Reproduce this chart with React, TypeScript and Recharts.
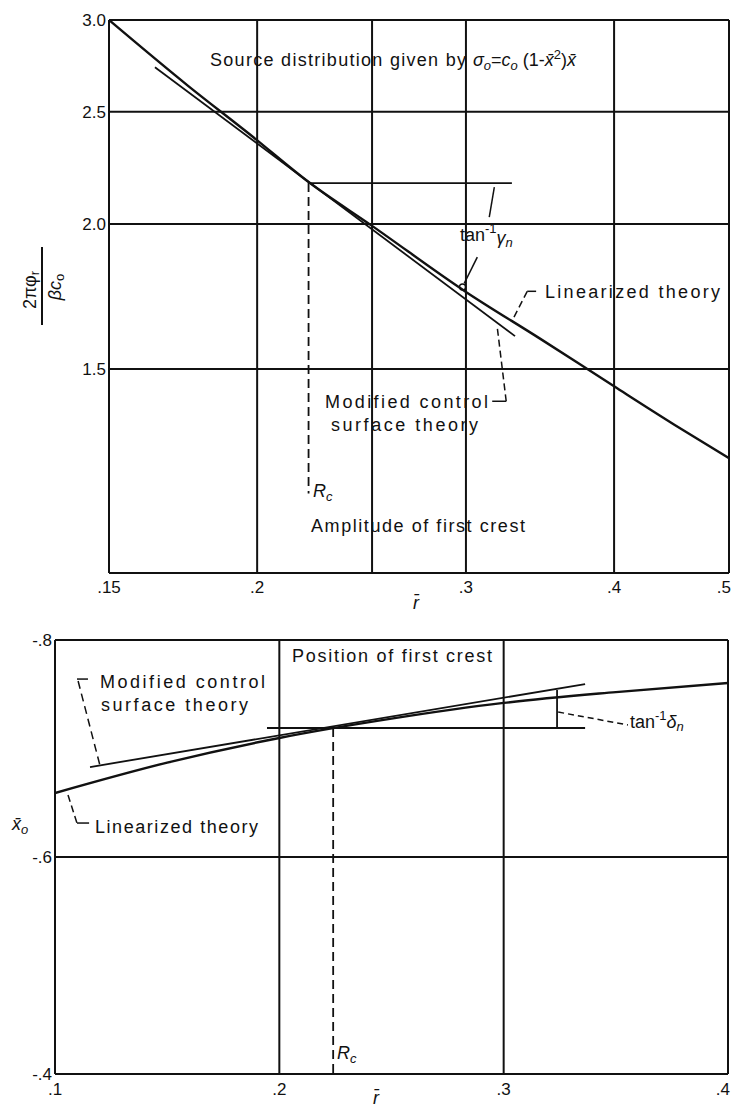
import { Line, LineChart, ReferenceDot, ReferenceLine, XAxis, YAxis } from "recharts";

const FONT = "'Liberation Sans', Arial, sans-serif";
const INK = "#111";

// amplitude of first crest (top panel, log-log)
const ampXTicks = [0.15, 0.2, 0.3, 0.4, 0.5];
const ampYTicks = [1.5, 2.0, 2.5, 3.0];
const ampXGrid = [0.2, 0.25, 0.3, 0.4];
const ampYGrid = [1.5, 2.0, 2.5];
const ampLinearizedR = [0.15, 0.175, 0.197, 0.2216, 0.25, 0.3, 0.3464, 0.4, 0.45, 0.5];
const ampLinearizedPhi = [3.0, 2.631, 2.392, 2.17, 1.993, 1.748, 1.593, 1.449, 1.342, 1.256];
const ampModifiedR = [0.164, 0.33];
const ampModifiedPhi = [2.7316, 1.601];
const ampRc = 0.221;
const ampCrest = 2.17;
const ampRcBottom = 1.171;
const ampHorizEnd = 0.328;

// position of first crest (bottom panel)
const posXTicks = [0.1, 0.2, 0.3, 0.4];
const posYTicks = [-0.8, -0.6, -0.4];
const posXGrid = [0.2, 0.3];
const posYGrid = [-0.6];
const posLinearizedR = [0.1, 0.15, 0.2, 0.25, 0.3, 0.35, 0.4];
const posLinearizedX0 = [-0.659, -0.687, -0.7097, -0.7275, -0.742, -0.752, -0.7604];
const posModifiedR = [0.1156, 0.3363];
const posModifiedX0 = [-0.6829, -0.7594];
const posRc = 0.224;
const posCrest = -0.7189;
const posHorizStart = 0.1945;
const posHorizEnd = 0.3363;
const posDeltaR = 0.3238;
const posDeltaTop = -0.7539;

const zip = (xs: number[], ys: number[]) => xs.map((x, i) => ({ x, y: ys[i] }));

const dotFmt = (v: number) => String(v).replace(/^(-?)0\./, "$1.");

// text drawn twice: a white outline underneath to break the grid, then the ink
function Halo({ x, y, w, anchor, children }: { x: number; y: number; w?: number; anchor?: string; children: any }) {
  const common = {
    x,
    y,
    fontFamily: FONT,
    fontSize: 18,
    textAnchor: anchor as any,
    textLength: w,
    lengthAdjust: w ? ("spacing" as const) : undefined,
  };
  return (
    <g>
      <text {...common} fill="#fff" stroke="#fff" strokeWidth={8} strokeLinejoin="round">
        {children}
      </text>
      <text {...common} fill={INK}>
        {children}
      </text>
    </g>
  );
}

function xTick(count: number, dy: number) {
  return (props: any) => {
    const { x, y, payload, index } = props;
    const last = index === count - 1;
    return (
      <text
        x={last ? x + 2 : x}
        y={y}
        dy={dy}
        textAnchor={last ? "end" : "middle"}
        fontFamily={FONT}
        fontSize={17}
        fill={INK}
      >
        {dotFmt(payload.value)}
      </text>
    );
  };
}

function yTick(fmt: (v: number) => string) {
  return (props: any) => {
    const { x, y, payload } = props;
    return (
      <text x={x} y={y} dy={6} textAnchor="end" fontFamily={FONT} fontSize={17} fill={INK}>
        {fmt(payload.value)}
      </text>
    );
  };
}

const lineStyle = { stroke: INK, strokeWidth: 2 };

function AmplitudePanel() {
  return (
    <LineChart width={731} height={615} margin={{ top: 20, right: 2, bottom: 0, left: 0 }}>
      <XAxis
        dataKey="x"
        type="number"
        scale="log"
        domain={[0.15, 0.5]}
        ticks={ampXTicks}
        interval={0}
        allowDataOverflow
        axisLine={false}
        tickLine={false}
        tickSize={0}
        tickMargin={0}
        height={42}
        tick={xTick(ampXTicks.length, 20)}
      />
      <YAxis
        type="number"
        scale="log"
        domain={[1, 3]}
        ticks={ampYTicks}
        interval={0}
        allowDataOverflow
        axisLine={false}
        tickLine={false}
        tickSize={0}
        tickMargin={3}
        width={109}
        tick={yTick((v) => v.toFixed(1))}
      />
      {ampXGrid.map((v) => (
        <ReferenceLine key={`gx${v}`} x={v} {...lineStyle} ifOverflow="visible" />
      ))}
      {ampYGrid.map((v) => (
        <ReferenceLine key={`gy${v}`} y={v} {...lineStyle} ifOverflow="visible" />
      ))}
      <ReferenceLine x={0.15} {...lineStyle} ifOverflow="visible" />
      <ReferenceLine x={0.5} {...lineStyle} ifOverflow="visible" />
      <ReferenceLine y={1} {...lineStyle} ifOverflow="visible" />
      <ReferenceLine y={3} {...lineStyle} ifOverflow="visible" />

      <ReferenceLine
        segment={[{ x: ampRc, y: ampCrest }, { x: ampHorizEnd, y: ampCrest }]}
        stroke={INK}
        strokeWidth={1.8}
        ifOverflow="visible"
      />
      <ReferenceLine
        segment={[{ x: ampRc, y: ampCrest }, { x: ampRc, y: ampRcBottom }]}
        stroke={INK}
        strokeWidth={1.8}
        strokeDasharray="9 5"
        ifOverflow="visible"
      />
      {/* tan-1 gamma leaders */}
      <ReferenceLine segment={[{ x: 0.317, y: 2.152 }, { x: 0.3139, y: 2.028 }]} stroke={INK} strokeWidth={1.5} ifOverflow="visible" />
      <ReferenceLine segment={[{ x: 0.3067, y: 1.873 }, { x: 0.299, y: 1.778 }]} stroke={INK} strokeWidth={1.5} ifOverflow="visible" />
      <ReferenceDot x={0.298} y={1.765} r={3} fill="none" stroke={INK} strokeWidth={1.3} ifOverflow="visible" />
      {/* linearized leader */}
      <ReferenceLine segment={[{ x: 0.3379, y: 1.75 }, { x: 0.3438, y: 1.75 }]} stroke={INK} strokeWidth={1.5} ifOverflow="visible" />
      <ReferenceLine segment={[{ x: 0.3379, y: 1.75 }, { x: 0.328, y: 1.649 }]} stroke={INK} strokeWidth={1.5} strokeDasharray="7 4" ifOverflow="visible" />
      {/* modified leader */}
      <ReferenceLine segment={[{ x: 0.3157, y: 1.4066 }, { x: 0.3244, y: 1.4066 }]} stroke={INK} strokeWidth={1.5} ifOverflow="visible" />
      <ReferenceLine segment={[{ x: 0.3244, y: 1.4066 }, { x: 0.3188, y: 1.6295 }]} stroke={INK} strokeWidth={1.5} strokeDasharray="7 4" ifOverflow="visible" />

      <Line
        data={zip(ampLinearizedR, ampLinearizedPhi)}
        dataKey="y"
        type="monotone"
        stroke={INK}
        strokeWidth={2.4}
        dot={false}
        isAnimationActive={false}
      />
      <Line
        data={zip(ampModifiedR, ampModifiedPhi)}
        dataKey="y"
        type="linear"
        stroke={INK}
        strokeWidth={1.8}
        dot={false}
        isAnimationActive={false}
      />

      <Halo x={210} y={66} w={256}>Source distribution given by</Halo>
      <Halo x={473} y={66}>
        <tspan fontStyle="italic">σ</tspan>
        <tspan fontStyle="italic" fontSize={13} dy={4}>o</tspan>
        <tspan dy={-4}>=</tspan>
        <tspan fontStyle="italic">c</tspan>
        <tspan fontStyle="italic" fontSize={13} dy={4}>o</tspan>
        <tspan dy={-4}>{" (1-"}</tspan>
        <tspan fontStyle="italic">{"x\u0304"}</tspan>
        <tspan fontSize={13} dy={-7}>2</tspan>
        <tspan dy={7}>)</tspan>
        <tspan fontStyle="italic">{"x\u0304"}</tspan>
      </Halo>
      <Halo x={460} y={241}>
        <tspan>tan</tspan>
        <tspan fontSize={13} dy={-8}>-1</tspan>
        <tspan fontStyle="italic" dy={11}>γ</tspan>
        <tspan fontStyle="italic" fontSize={13} dy={3}>n</tspan>
      </Halo>
      <Halo x={545} y={298} w={175}>Linearized theory</Halo>
      <Halo x={325} y={408} w={163}>Modified control</Halo>
      <Halo x={331} y={431} w={147}>surface theory</Halo>
      <Halo x={311} y={532} w={214}>Amplitude of first crest</Halo>
      <Halo x={313} y={497}>
        <tspan fontStyle="italic">R</tspan>
        <tspan fontStyle="italic" fontSize={13} dy={4}>c</tspan>
      </Halo>

      <g transform="translate(42,287) rotate(-90)">
        <text x={-3} y={-6} textAnchor="middle" fontFamily={FONT} fontSize={18} fill={INK}>
          <tspan>2πφ</tspan>
          <tspan fontSize={13} dy={3}>r</tspan>
        </text>
        <line x1={-38} y1={0} x2={40} y2={0} stroke={INK} strokeWidth={2} />
        <text x={0} y={19} textAnchor="middle" fontFamily={FONT} fontSize={18} fill={INK}>
          <tspan fontStyle="italic">β</tspan>
          <tspan fontStyle="italic">c</tspan>
          <tspan fontSize={13} dy={3}>o</tspan>
        </text>
      </g>
      <text x={416} y={609} textAnchor="middle" fontFamily={FONT} fontSize={18} fontStyle="italic" fill={INK}>
        {"r\u0304"}
      </text>
    </LineChart>
  );
}

function PositionPanel() {
  return (
    <LineChart width={731} height={508} margin={{ top: 40, right: 3, bottom: 0, left: 0 }}>
      <XAxis
        dataKey="x"
        type="number"
        domain={[0.1, 0.4]}
        ticks={posXTicks}
        interval={0}
        allowDataOverflow
        axisLine={false}
        tickLine={false}
        tickSize={0}
        tickMargin={0}
        height={34}
        tick={xTick(posXTicks.length, 21)}
      />
      <YAxis
        type="number"
        domain={[-0.8, -0.4]}
        reversed
        ticks={posYTicks}
        interval={0}
        allowDataOverflow
        axisLine={false}
        tickLine={false}
        tickSize={0}
        tickMargin={3}
        width={55}
        tick={yTick(dotFmt)}
      />
      {posXGrid.map((v) => (
        <ReferenceLine key={`gx${v}`} x={v} {...lineStyle} ifOverflow="visible" />
      ))}
      {posYGrid.map((v) => (
        <ReferenceLine key={`gy${v}`} y={v} {...lineStyle} ifOverflow="visible" />
      ))}
      <ReferenceLine x={0.1} {...lineStyle} ifOverflow="visible" />
      <ReferenceLine x={0.4} {...lineStyle} ifOverflow="visible" />
      <ReferenceLine y={-0.8} {...lineStyle} ifOverflow="visible" />
      <ReferenceLine y={-0.4} {...lineStyle} ifOverflow="visible" />

      <ReferenceLine
        segment={[{ x: posHorizStart, y: posCrest }, { x: posHorizEnd, y: posCrest }]}
        stroke={INK}
        strokeWidth={1.8}
        ifOverflow="visible"
      />
      <ReferenceLine
        segment={[{ x: posRc, y: posCrest }, { x: posRc, y: -0.4 }]}
        stroke={INK}
        strokeWidth={1.8}
        strokeDasharray="9 5"
        ifOverflow="visible"
      />
      <ReferenceLine
        segment={[{ x: posDeltaR, y: posDeltaTop }, { x: posDeltaR, y: posCrest }]}
        stroke={INK}
        strokeWidth={1.8}
        ifOverflow="visible"
      />
      {/* tan-1 delta leader */}
      <ReferenceLine segment={[{ x: 0.3243, y: -0.7336 }, { x: 0.3554, y: -0.7217 }]} stroke={INK} strokeWidth={1.5} strokeDasharray="6 4" ifOverflow="visible" />
      {/* modified leader */}
      <ReferenceLine segment={[{ x: 0.1098, y: -0.764 }, { x: 0.1147, y: -0.764 }]} stroke={INK} strokeWidth={1.5} ifOverflow="visible" />
      <ReferenceLine segment={[{ x: 0.1103, y: -0.7622 }, { x: 0.1201, y: -0.6839 }]} stroke={INK} strokeWidth={1.5} strokeDasharray="8 5" ifOverflow="visible" />
      {/* linearized leader */}
      <ReferenceLine segment={[{ x: 0.1058, y: -0.6571 }, { x: 0.1098, y: -0.6313 }]} stroke={INK} strokeWidth={1.5} strokeDasharray="7 4" ifOverflow="visible" />
      <ReferenceLine segment={[{ x: 0.1098, y: -0.6313 }, { x: 0.1152, y: -0.6313 }]} stroke={INK} strokeWidth={1.5} ifOverflow="visible" />

      <Line
        data={zip(posLinearizedR, posLinearizedX0)}
        dataKey="y"
        type="monotone"
        stroke={INK}
        strokeWidth={2.4}
        dot={false}
        isAnimationActive={false}
      />
      <Line
        data={zip(posModifiedR, posModifiedX0)}
        dataKey="y"
        type="linear"
        stroke={INK}
        strokeWidth={1.8}
        dot={false}
        isAnimationActive={false}
      />

      <Halo x={292} y={62} w={200}>Position of first crest</Halo>
      <Halo x={100} y={88} w={165}>Modified control</Halo>
      <Halo x={101} y={111} w={147}>surface theory</Halo>
      <Halo x={95} y={233} w={163}>Linearized theory</Halo>
      <Halo x={630} y={128}>
        <tspan>tan</tspan>
        <tspan fontSize={13} dy={-8}>-1</tspan>
        <tspan fontStyle="italic" dy={8}>δ</tspan>
        <tspan fontStyle="italic" fontSize={13} dy={3}>n</tspan>
      </Halo>
      <Halo x={337} y={459}>
        <tspan fontStyle="italic">R</tspan>
        <tspan fontStyle="italic" fontSize={13} dy={4}>c</tspan>
      </Halo>
      <text x={12} y={230} fontFamily={FONT} fontSize={18} fill={INK}>
        <tspan fontStyle="italic">{"x\u0304"}</tspan>
        <tspan fontStyle="italic" fontSize={13} dy={4}>o</tspan>
      </text>
      <text x={376} y={504} textAnchor="middle" fontFamily={FONT} fontSize={18} fontStyle="italic" fill={INK}>
        {"r\u0304"}
      </text>
    </LineChart>
  );
}

export default function App() {
  return (
    <div style={{ position: "absolute", left: 0, top: 0, width: 731, height: 1108, background: "#fff", overflow: "hidden" }}>
      <div style={{ position: "absolute", left: 0, top: 0 }}>
        <AmplitudePanel />
      </div>
      <div style={{ position: "absolute", left: 0, top: 600 }}>
        <PositionPanel />
      </div>
    </div>
  );
}
